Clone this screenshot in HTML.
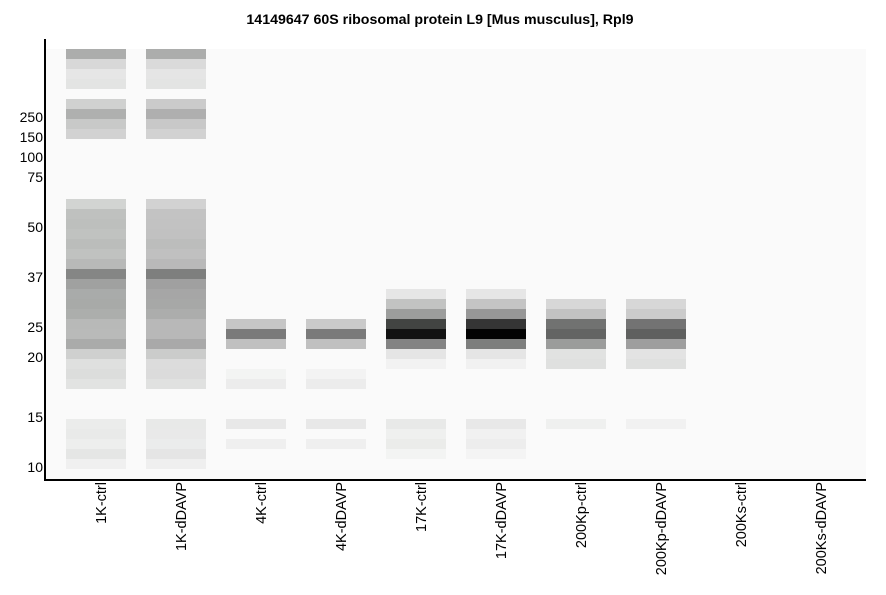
<!DOCTYPE html>
<html><head><meta charset="utf-8"><style>
html,body{margin:0;padding:0;background:#fff;}
svg{display:block;}
text{font-family:"Liberation Sans",Arial,sans-serif;}
</style></head><body>
<svg width="886" height="595" viewBox="0 0 886 595" xmlns="http://www.w3.org/2000/svg">
<rect x="0" y="0" width="886" height="595" fill="#fff"/>
<text x="440" y="24" text-anchor="middle" font-size="14.2" font-weight="bold" fill="#000">14149647 60S ribosomal protein L9 [Mus musculus], Rpl9</text>
<rect x="46" y="49" width="820" height="430" fill="#fafafa"/>
<!-- lane 1 1K-ctrl -->
<g>
<rect x="66" y="49" width="60" height="10" fill="#acadac"/>
<rect x="66" y="59" width="60" height="10" fill="#d8d8d8"/>
<rect x="66" y="69" width="60" height="10" fill="#e6e6e6"/>
<rect x="66" y="79" width="60" height="10" fill="#e3e4e3"/>
<rect x="66" y="99" width="60" height="10" fill="#d0d1d0"/>
<rect x="66" y="109" width="60" height="10" fill="#afb0af"/>
<rect x="66" y="119" width="60" height="10" fill="#c8c9c8"/>
<rect x="66" y="129" width="60" height="10" fill="#d2d2d2"/>
<rect x="66" y="199" width="60" height="10" fill="#d2d4d2"/>
<rect x="66" y="209" width="60" height="10" fill="#bfc1bf"/>
<rect x="66" y="219" width="60" height="10" fill="#bdbfbd"/>
<rect x="66" y="229" width="60" height="10" fill="#c0c2c0"/>
<rect x="66" y="239" width="60" height="10" fill="#bbbdbb"/>
<rect x="66" y="249" width="60" height="10" fill="#c0c2c0"/>
<rect x="66" y="259" width="60" height="10" fill="#b8b9b8"/>
<rect x="66" y="269" width="60" height="10" fill="#858685"/>
<rect x="66" y="279" width="60" height="10" fill="#a0a1a0"/>
<rect x="66" y="289" width="60" height="10" fill="#a9abaa"/>
<rect x="66" y="299" width="60" height="10" fill="#a8aaa8"/>
<rect x="66" y="309" width="60" height="10" fill="#acaeac"/>
<rect x="66" y="319" width="60" height="10" fill="#b8b9b8"/>
<rect x="66" y="329" width="60" height="10" fill="#b9bab9"/>
<rect x="66" y="339" width="60" height="10" fill="#aaabaa"/>
<rect x="66" y="349" width="60" height="10" fill="#cfd0cf"/>
<rect x="66" y="359" width="60" height="10" fill="#dfe0df"/>
<rect x="66" y="369" width="60" height="10" fill="#dcdddc"/>
<rect x="66" y="379" width="60" height="10" fill="#e2e3e2"/>
<rect x="66" y="419" width="60" height="10" fill="#ebeceb"/>
<rect x="66" y="429" width="60" height="10" fill="#e9eae9"/>
<rect x="66" y="439" width="60" height="10" fill="#edeeed"/>
<rect x="66" y="449" width="60" height="10" fill="#e5e6e5"/>
<rect x="66" y="459" width="60" height="10" fill="#f0f0f0"/>
</g>
<!-- lane 2 1K-dDAVP -->
<g>
<rect x="146" y="49" width="60" height="10" fill="#acadac"/>
<rect x="146" y="59" width="60" height="10" fill="#dadada"/>
<rect x="146" y="69" width="60" height="10" fill="#e5e5e5"/>
<rect x="146" y="79" width="60" height="10" fill="#e3e4e3"/>
<rect x="146" y="99" width="60" height="10" fill="#cbcbcb"/>
<rect x="146" y="109" width="60" height="10" fill="#afafaf"/>
<rect x="146" y="119" width="60" height="10" fill="#c8c8c8"/>
<rect x="146" y="129" width="60" height="10" fill="#d2d2d2"/>
<rect x="146" y="199" width="60" height="10" fill="#d2d2d2"/>
<rect x="146" y="209" width="60" height="10" fill="#c3c3c3"/>
<rect x="146" y="219" width="60" height="10" fill="#c2c2c2"/>
<rect x="146" y="229" width="60" height="10" fill="#c1c1c1"/>
<rect x="146" y="239" width="60" height="10" fill="#bcbdbc"/>
<rect x="146" y="249" width="60" height="10" fill="#c0c0c0"/>
<rect x="146" y="259" width="60" height="10" fill="#b9b9b9"/>
<rect x="146" y="269" width="60" height="10" fill="#7e7f7e"/>
<rect x="146" y="279" width="60" height="10" fill="#a0a0a0"/>
<rect x="146" y="289" width="60" height="10" fill="#a6a6a6"/>
<rect x="146" y="299" width="60" height="10" fill="#a7a8a7"/>
<rect x="146" y="309" width="60" height="10" fill="#acadac"/>
<rect x="146" y="319" width="60" height="10" fill="#b8b8b8"/>
<rect x="146" y="329" width="60" height="10" fill="#b8b8b8"/>
<rect x="146" y="339" width="60" height="10" fill="#a9a9a9"/>
<rect x="146" y="349" width="60" height="10" fill="#cbcccb"/>
<rect x="146" y="359" width="60" height="10" fill="#dcdcdc"/>
<rect x="146" y="369" width="60" height="10" fill="#dbdbdb"/>
<rect x="146" y="379" width="60" height="10" fill="#e0e1e0"/>
<rect x="146" y="419" width="60" height="10" fill="#e8e9e8"/>
<rect x="146" y="429" width="60" height="10" fill="#e9e9e9"/>
<rect x="146" y="439" width="60" height="10" fill="#ebecec"/>
<rect x="146" y="449" width="60" height="10" fill="#e5e5e5"/>
<rect x="146" y="459" width="60" height="10" fill="#efefef"/>
</g>
<!-- lane 3 4K-ctrl -->
<g>
<rect x="226" y="319" width="60" height="10" fill="#c6c6c6"/>
<rect x="226" y="329" width="60" height="10" fill="#7a7a7a"/>
<rect x="226" y="339" width="60" height="10" fill="#c0c0c0"/>
<rect x="226" y="369" width="60" height="10" fill="#f3f4f3"/>
<rect x="226" y="379" width="60" height="10" fill="#ececec"/>
<rect x="226" y="419" width="60" height="10" fill="#e8e8e8"/>
<rect x="226" y="439" width="60" height="10" fill="#efefef"/>
</g>
<!-- lane 4 4K-dDAVP -->
<g>
<rect x="306" y="319" width="60" height="10" fill="#cacaca"/>
<rect x="306" y="329" width="60" height="10" fill="#7a7a7a"/>
<rect x="306" y="339" width="60" height="10" fill="#c0c0c0"/>
<rect x="306" y="369" width="60" height="10" fill="#f3f3f3"/>
<rect x="306" y="379" width="60" height="10" fill="#ececec"/>
<rect x="306" y="419" width="60" height="10" fill="#e8e8e8"/>
<rect x="306" y="439" width="60" height="10" fill="#efefef"/>
</g>
<!-- lane 5 17K-ctrl -->
<g>
<rect x="386" y="289" width="60" height="10" fill="#e6e6e6"/>
<rect x="386" y="299" width="60" height="10" fill="#c2c3c2"/>
<rect x="386" y="309" width="60" height="10" fill="#9c9d9c"/>
<rect x="386" y="319" width="60" height="10" fill="#424442"/>
<rect x="386" y="329" width="60" height="10" fill="#121212"/>
<rect x="386" y="339" width="60" height="10" fill="#838383"/>
<rect x="386" y="349" width="60" height="10" fill="#e5e5e5"/>
<rect x="386" y="359" width="60" height="10" fill="#f2f2f2"/>
<rect x="386" y="419" width="60" height="10" fill="#e8e9e8"/>
<rect x="386" y="429" width="60" height="10" fill="#eff0ef"/>
<rect x="386" y="439" width="60" height="10" fill="#ebecea"/>
<rect x="386" y="449" width="60" height="10" fill="#f3f4f3"/>
</g>
<!-- lane 6 17K-dDAVP -->
<g>
<rect x="466" y="289" width="60" height="10" fill="#e6e6e6"/>
<rect x="466" y="299" width="60" height="10" fill="#c4c4c4"/>
<rect x="466" y="309" width="60" height="10" fill="#979797"/>
<rect x="466" y="319" width="60" height="10" fill="#353535"/>
<rect x="466" y="329" width="60" height="10" fill="#030303"/>
<rect x="466" y="339" width="60" height="10" fill="#7d7e7d"/>
<rect x="466" y="349" width="60" height="10" fill="#e5e5e5"/>
<rect x="466" y="359" width="60" height="10" fill="#f1f1f1"/>
<rect x="466" y="419" width="60" height="10" fill="#e8e8e8"/>
<rect x="466" y="429" width="60" height="10" fill="#f1f1f1"/>
<rect x="466" y="439" width="60" height="10" fill="#ededed"/>
<rect x="466" y="449" width="60" height="10" fill="#f4f4f4"/>
</g>
<!-- lane 7 200Kp-ctrl -->
<g>
<rect x="546" y="299" width="60" height="10" fill="#d7d7d7"/>
<rect x="546" y="309" width="60" height="10" fill="#c2c2c2"/>
<rect x="546" y="319" width="60" height="10" fill="#717271"/>
<rect x="546" y="329" width="60" height="10" fill="#636463"/>
<rect x="546" y="339" width="60" height="10" fill="#9b9c9b"/>
<rect x="546" y="349" width="60" height="10" fill="#e1e2e1"/>
<rect x="546" y="359" width="60" height="10" fill="#dfe0df"/>
<rect x="546" y="419" width="60" height="10" fill="#eff0ef"/>
</g>
<!-- lane 8 200Kp-dDAVP -->
<g>
<rect x="626" y="299" width="60" height="10" fill="#d7d7d7"/>
<rect x="626" y="309" width="60" height="10" fill="#cbcbcb"/>
<rect x="626" y="319" width="60" height="10" fill="#737373"/>
<rect x="626" y="329" width="60" height="10" fill="#5f605f"/>
<rect x="626" y="339" width="60" height="10" fill="#9e9e9e"/>
<rect x="626" y="349" width="60" height="10" fill="#e3e3e3"/>
<rect x="626" y="359" width="60" height="10" fill="#dfe0df"/>
<rect x="626" y="419" width="60" height="10" fill="#f1f1f1"/>
</g>
<!-- axes -->
<rect x="44" y="39" width="2" height="442" fill="#000"/>
<rect x="44" y="479" width="822" height="2" fill="#000"/>
<!-- y tick labels -->
<g font-size="14" fill="#000" text-anchor="end">
<text x="43" y="122">250</text>
<text x="43" y="142">150</text>
<text x="43" y="162">100</text>
<text x="43" y="182">75</text>
<text x="43" y="232">50</text>
<text x="43" y="282">37</text>
<text x="43" y="332">25</text>
<text x="43" y="362">20</text>
<text x="43" y="422">15</text>
<text x="43" y="472">10</text>
</g>
<!-- x labels -->
<g font-size="14.5" fill="#000" text-anchor="end">
<text transform="translate(106,482) rotate(-90)">1K-ctrl</text>
<text transform="translate(186,482) rotate(-90)">1K-dDAVP</text>
<text transform="translate(266,482) rotate(-90)">4K-ctrl</text>
<text transform="translate(346,482) rotate(-90)">4K-dDAVP</text>
<text transform="translate(426,482) rotate(-90)">17K-ctrl</text>
<text transform="translate(506,482) rotate(-90)">17K-dDAVP</text>
<text transform="translate(586,482) rotate(-90)">200Kp-ctrl</text>
<text transform="translate(666,482) rotate(-90)">200Kp-dDAVP</text>
<text transform="translate(746,482) rotate(-90)">200Ks-ctrl</text>
<text transform="translate(826,482) rotate(-90)">200Ks-dDAVP</text>
</g>
</svg>
</body></html>
